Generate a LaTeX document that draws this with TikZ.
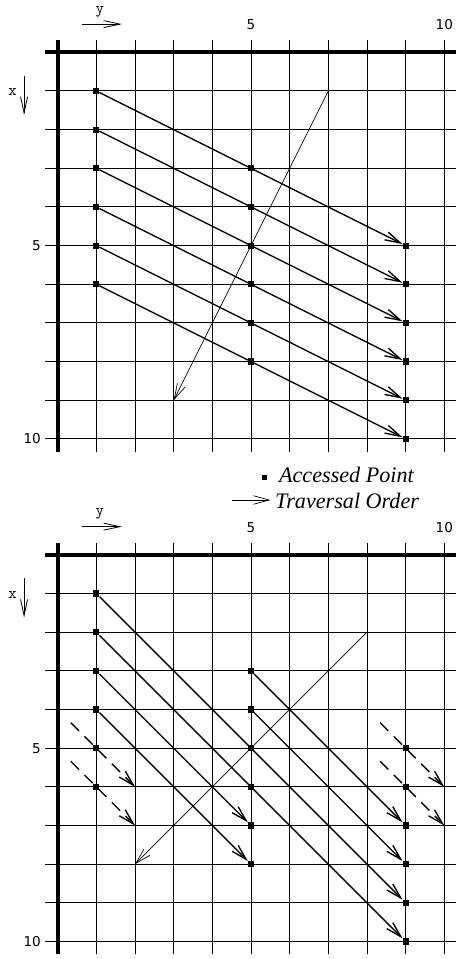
\documentclass[tikz,border=0pt]{standalone}
\usepackage{fontspec}
\setmainfont{Liberation Serif}
\newfontfamily\numfont{DejaVu Sans}
\usetikzlibrary{arrows.meta}

\begin{document}
\begin{tikzpicture}[
  gridline/.style={line width=0.7pt},
  frame/.style={line width=2.9pt},
  pt/.style={fill=black, minimum size=0.16cm, inner sep=0pt, outer sep=0pt},
  walk/.style={line width=1pt, -{Straight Barb[length=4mm,width=2.2mm]}},
  skip/.style={walk, dash pattern=on 3mm off 2mm},
  order/.style={line width=0.5pt, -{Straight Barb[length=4mm,width=2.2mm]}},
  axisarrow/.style={line width=0.6pt, -{Straight Barb[length=4.2mm,width=1.8mm]}},
  numlbl/.style={font=\numfont\fontsize{10}{12}\selectfont, inner sep=0pt},
  axislbl/.style={font=\ttfamily\fontsize{12}{14}\selectfont, inner sep=0pt},
  legend/.style={font=\itshape\fontsize{16.3}{19}\selectfont, inner sep=0pt, anchor=base west}]

  \useasboundingbox (-1.4925,1.353) rectangle (10.303,-23.453);

  % grids, frames and axis labels of both panels
  \foreach \oy/\p in {0/t, -13/b} {
    \foreach \i in {1,...,10} {
      \draw[gridline] (\i,\oy+0.32) -- (\i,\oy-10.33);
      \draw[gridline] (-0.33,\oy-\i) -- (10.3,\oy-\i);
    }
    \draw[frame] (-0.33,\oy) -- (10.3,\oy);
    \draw[frame] (0,\oy+0.32) -- (0,\oy-10.33);

    \node[numlbl] (\p-c5) at (5,\oy+0.71) {5};
    \node[numlbl] (\p-c10) at (10,\oy+0.71) {10};
    \node[numlbl, anchor=east] (\p-r5) at (-0.43,\oy-5) {5};
    \node[numlbl, anchor=east] (\p-r10) at (-0.43,\oy-10) {10};

    \node[axislbl] (\p-ylbl) at (1.09,\oy+1.05) {y};
    \coordinate (\p-ya) at (0.63,\oy+0.73);
    \coordinate (\p-yb) at (1.66,\oy+0.73);
    \draw[axisarrow] (\p-ya) -- (\p-yb);
    \node[axislbl] (\p-xlbl) at (-1.17,\oy-1.03) {x};
    \coordinate (\p-xa) at (-0.87,\oy-0.61);
    \coordinate (\p-xb) at (-0.87,\oy-1.62);
    \draw[axisarrow] (\p-xa) -- (\p-xb);
  }

  % traversal order
  \coordinate (t-ord-s) at (7,-1);
  \coordinate (t-ord-e) at (3,-9);
  \draw[order] (t-ord-s) -- (t-ord-e);
  \coordinate (b-ord-s) at (8,-15);
  \coordinate (b-ord-e) at (2,-21);
  \draw[order] (b-ord-s) -- (b-ord-e);

  % accessed points
  \foreach \c/\s in {1/1, 5/3, 9/5}
    \foreach \k in {0,...,5} {
      \pgfmathtruncatemacro\r{\s+\k}
      \node[pt] (t-\c-\r) at (\c,-\r) {};
      \node[pt] (b-\c-\r) at (\c,-\r-13) {};
    }

  % upper panel: one pass per row
  \foreach \r in {1,...,6} {
    \pgfmathtruncatemacro\e{\r+4}
    \draw[walk] (t-1-\r) -- (t-9-\e);
  }

  % lower panel: diagonal passes
  \foreach \a/\b in {1-1/9-9, 1-2/9-10, 1-3/5-7, 1-4/5-8, 5-3/9-7, 5-4/9-8}
    \draw[walk] (b-\a) -- (b-\b);

  \foreach \c/\r in {0/4, 0/5, 8/4, 8/5} {
    \coordinate (ds-\c-\r) at (\c+0.34,-\r-0.34-13);
    \coordinate (de-\c-\r) at (\c+2,-\r-2-13);
    \draw[skip] (ds-\c-\r) -- (de-\c-\r);
  }

  % legend
  \node[pt, minimum size=0.14cm] (key-pt) at (5.35,-11.0) {};
  \node[legend] (key-pt-txt) at (5.72,-11.14) {Accessed Point};
  \coordinate (key-a) at (4.5,-11.58);
  \coordinate (key-b) at (5.5,-11.58);
  \draw[order] (key-a) -- (key-b);
  \node[legend] (key-ord-txt) at (5.62,-11.79) {Traversal Order};
\end{tikzpicture}
\end{document}
